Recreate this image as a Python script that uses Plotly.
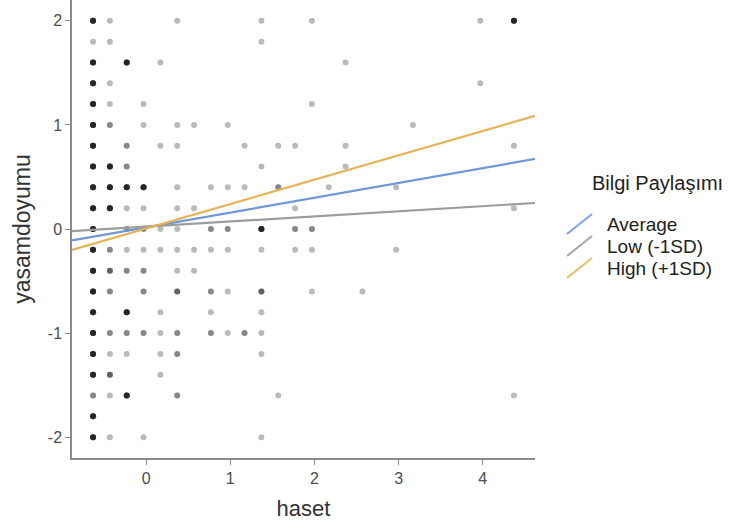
import plotly.graph_objects as go

# ---- data ----
# rows of the scatter: yasamdoyumu level, haset values on that row, overlap counts
yasam_levels = [2.0, 1.8, 1.6, 1.4, 1.2, 1.0, 0.8, 0.6, 0.4, 0.2, 0.0,
                -0.2, -0.4, -0.6, -0.8, -1.0, -1.2, -1.4, -1.6, -1.8, -2.0]
haset_rows = [
    [-0.63, -0.43, 0.37, 1.37, 1.97, 3.97, 4.37],
    [-0.63, -0.43, 1.37],
    [-0.63, -0.23, 0.17, 2.37],
    [-0.63, -0.43, 3.97],
    [-0.63, -0.43, -0.03, 1.97],
    [-0.63, -0.43, -0.03, 0.37, 0.57, 0.97, 3.17],
    [-0.63, -0.23, 0.17, 0.37, 1.17, 1.57, 1.77, 2.37, 4.37],
    [-0.63, -0.43, -0.23, 1.37, 2.37],
    [-0.63, -0.43, -0.23, -0.03, 0.37, 0.77, 0.97, 1.17, 1.57, 2.17, 2.97],
    [-0.63, -0.43, -0.23, -0.03, 0.37, 0.57, 1.77, 4.37],
    [-0.63, -0.23, -0.03, 0.17, 0.37, 0.77, 0.97, 1.37, 1.77, 1.97],
    [-0.63, -0.43, -0.23, -0.03, 0.17, 0.37, 0.57, 0.77, 0.97, 1.37, 1.77, 1.97, 2.97],
    [-0.63, -0.43, -0.23, -0.03, 0.37, 0.57],
    [-0.63, -0.43, -0.03, 0.37, 0.77, 0.97, 1.37, 1.97, 2.57],
    [-0.63, -0.23, 0.17, 0.77, 1.37],
    [-0.63, -0.43, -0.23, -0.03, 0.17, 0.37, 0.77, 0.97, 1.17, 1.37],
    [-0.63, -0.43, -0.23, 0.17, 0.37, 1.37],
    [-0.63, -0.43, 0.17],
    [-0.63, -0.43, -0.23, 0.37, 1.57, 4.37],
    [-0.63],
    [-0.63, -0.43, -0.03, 1.37],
]
count_rows = [
    [6, 1, 1, 1, 1, 1, 6],
    [1, 1, 1],
    [6, 6, 1, 1],
    [6, 1, 1],
    [6, 1, 1, 1],
    [6, 2, 1, 1, 1, 1, 1],
    [6, 2, 1, 1, 1, 1, 1, 1, 1],
    [6, 6, 2, 1, 1],
    [6, 6, 6, 6, 1, 1, 1, 1, 2, 1, 1],
    [6, 6, 1, 1, 1, 1, 1, 1],
    [6, 2, 2, 1, 1, 2, 2, 6, 2, 2],
    [6, 2, 1, 1, 1, 1, 1, 1, 1, 1, 1, 1, 1],
    [6, 3, 2, 2, 1, 1],
    [6, 2, 2, 3, 2, 1, 3, 1, 1],
    [6, 6, 1, 1, 1],
    [6, 2, 2, 2, 1, 2, 2, 1, 2, 1],
    [6, 1, 1, 1, 2, 1],
    [6, 3, 1],
    [2, 1, 6, 2, 1, 1],
    [6],
    [6, 1, 1, 1],
]

# simple-slope lines (haset endpoints and predicted yasamdoyumu)
line_x = [-0.88, 4.62]
avg_y = [-0.11, 0.673]
low_y = [-0.02, 0.25]
high_y = [-0.20, 1.087]

legend_title = "Bilgi Paylaşımı"
series_names = ["Average", "Low (-1SD)", "High (+1SD)"]
series_colors = ["#6F97D9", "#9C9C9C", "#E5B356"]

x_ticks = [0, 1, 2, 3, 4]
x_labels = ["0", "1", "2", "3", "4"]
y_ticks = [-2, -1, 0, 1, 2]
y_labels = ["-2", "-1", "0", "1", "2"]

# ---- layout constants (pixels) ----
W, H = 730, 529
ML, MR, MT, MB = 72, 195, 0, 71
PW, PH = W - ML - MR, H - MT - MB


def paper_x(px_):
    return (px_ - ML) / PW


def paper_y(py_):
    return 1 - (py_ - MT) / PH


# ---- build ----
px, py = [], []
for lvl, xs, ns in zip(yasam_levels, haset_rows, count_rows):
    for xv, nv in zip(xs, ns):
        for _ in range(nv):
            px.append(xv)
            py.append(lvl)

fig = go.Figure()
fig.add_trace(go.Scatter(
    x=px, y=py, mode="markers", showlegend=False, hoverinfo="skip",
    marker=dict(size=6, color="rgba(0,0,0,0.27)", line=dict(width=0)),
))
for name, ys, col in zip(series_names, [avg_y, low_y, high_y], series_colors):
    fig.add_trace(go.Scatter(
        x=line_x, y=ys, mode="lines", name=name, showlegend=False,
        line=dict(color=col, width=2.2),
    ))

font_family = "Liberation Sans, Arial, Helvetica, sans-serif"
axis_common = dict(
    showline=True, linecolor="#8a8a8a", linewidth=1.5,
    ticks="outside", ticklen=5, tickcolor="#8a8a8a", tickwidth=1.2,
    showgrid=False, zeroline=False, automargin=False,
    tickfont=dict(size=16, color="#4d4d4d", family=font_family),
)
fig.update_xaxes(range=[-0.88, 4.62], tickvals=x_ticks, ticktext=x_labels,
                 title=dict(text="haset", font=dict(size=22, color="#333333"), standoff=15),
                 **axis_common)
fig.update_yaxes(range=[-2.2, 2.2], tickvals=y_ticks, ticktext=y_labels,
                 title=dict(text="yasamdoyumu", font=dict(size=23, color="#333333"), standoff=11),
                 **axis_common)

# ---- legend (ggplot-style, diagonal keys, tight rows) ----
legend_title_x, legend_title_y = 590, 183
key_x0, key_x1 = 567, 592
text_x = 605
row_y0, row_step = 224, 22

annotations = [dict(
    text=legend_title, x=paper_x(legend_title_x), y=paper_y(legend_title_y),
    xref="paper", yref="paper", xanchor="left", yanchor="middle", showarrow=False,
    font=dict(size=20, color="#222222", family=font_family),
)]
shapes = []
for i, (name, col) in enumerate(zip(series_names, series_colors)):
    cy = row_y0 + i * row_step
    annotations.append(dict(
        text=name, x=paper_x(text_x), y=paper_y(cy),
        xref="paper", yref="paper", xanchor="left", yanchor="middle", showarrow=False,
        font=dict(size=19, color="#222222", family=font_family),
    ))
    shapes.append(dict(
        type="line", xref="paper", yref="paper",
        x0=paper_x(key_x0), y0=paper_y(cy + 10), x1=paper_x(key_x1), y1=paper_y(cy - 10),
        line=dict(color=col, width=2.2), opacity=0.85,
    ))

fig.update_layout(
    width=W, height=H,
    margin=dict(l=ML, r=MR, t=MT, b=MB),
    plot_bgcolor="white", paper_bgcolor="white",
    font=dict(family=font_family, color="#333333"),
    showlegend=False,
    annotations=annotations,
    shapes=shapes,
)

fig.write_html("out.html", config={"displayModeBar": False})

# remove the browser's default page margin so the figure sits at the window origin
with open("out.html", "r", encoding="utf-8") as f:
    html = f.read()
html = html.replace("<body>", '<body style="margin:0;padding:0;">', 1)
with open("out.html", "w", encoding="utf-8") as f:
    f.write(html)
